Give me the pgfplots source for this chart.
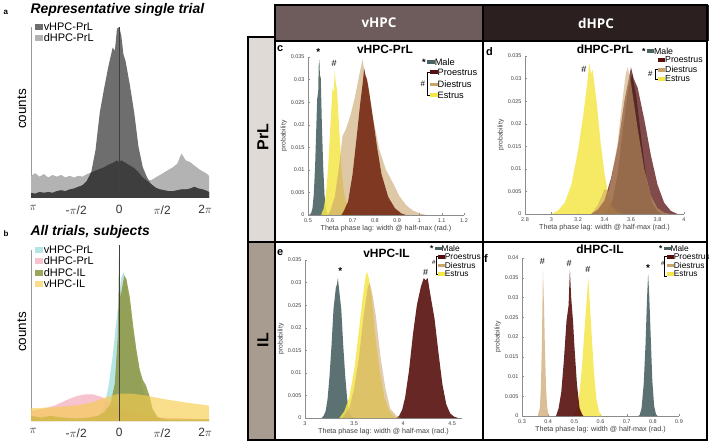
\documentclass[border=0pt]{standalone}
\usepackage{fontspec}
\setmainfont{Liberation Sans}
\newfontfamily\hdrfont{Open Sans}
\usepackage{pgfplots}
\pgfplotsset{compat=1.18}
\definecolor{male}{HTML}{4A6262}
\definecolor{proe}{HTML}{560F0D}
\definecolor{dies}{HTML}{C9A36B}
\definecolor{estr}{HTML}{F5E64A}
\definecolor{vgray}{HTML}{6E6E6E}
\definecolor{dgray}{HTML}{B3B3B3}
\definecolor{ovgray}{HTML}{3E3E3E}
\definecolor{bcyan}{HTML}{9EDCDD}
\definecolor{bpink}{HTML}{F2A9BA}
\definecolor{bolive}{HTML}{8C9440}
\definecolor{byell}{HTML}{F6CC4E}
\definecolor{hdrv}{HTML}{6E5B5B}
\definecolor{hdrd}{HTML}{2B1F1F}
\definecolor{cellprl}{HTML}{DFDAD5}
\definecolor{cellil}{HTML}{A89B8F}
\newcommand\fs[1]{\fontsize{#1}{#1}\selectfont}
\newcommand\sw[1]{\textcolor{#1}{\rule[0.12em]{0.8em}{0.42em}}}
\pgfplotsset{
  phase/.style={scale only axis, clip=false, width=178bp, height=171bp,
    xmin=-2.05, xmax=2.09, ymin=0, ymax=100,
    axis lines=left, x axis line style={draw=none},
    y axis line style={draw=black!40, -, line width=0.5bp},
    ytick=\empty, xtick={-2,-1,0,1,2},
    xticklabels={$\pi$, -$\pi$/2, 0, $\pi$/2, 2$\pi$},
    major tick length=0pt,
    xticklabel style={font=\fs{12}, text=black!80, yshift=-4bp},
    ylabel={counts},
    ylabel style={font=\fs{13.5}, at={(axis description cs:-0.052,0.52)}, anchor=center},
    legend style={draw=none, fill=none, font=\fs{11}, inner sep=0pt, row sep=1bp,
      nodes={inner xsep=0.5bp, inner ysep=0.5bp},
      legend cell align=left, at={(0.02,1.03)}, anchor=north west},
    legend image code/.code={\fill[##1] (0bp,-3bp) rectangle (8.5bp,3bp);},
  },
  hist/.style={scale only axis, clip=false, ymin=0,
    axis lines=left, axis line style={draw=black!45, -, line width=0.4bp},
    tick style={draw=black!45, line width=0.3bp}, tick align=inside, major tick length=1.5bp,
    tick label style={font=\fs{5.5}, text=black!75},
    /pgf/number format/assume math mode=true,
    scaled ticks=false,
    yticklabel style={/pgf/number format/fixed, /pgf/number format/precision=3},
    xticklabel style={/pgf/number format/fixed, /pgf/number format/precision=2},
    xlabel={Theta phase lag: width @ half-max (rad.)},
    ylabel={probability},
    xlabel style={font=\fs{7.2}, text=black!75, yshift=4bp},
    ylabel style={font=\fs{6.8}, text=black!75, yshift=-3bp},
  },
}
\begin{document}
\begin{tikzpicture}
\useasboundingbox (0,0) rectangle (709bp,442bp);
% ---------- table backgrounds ----------
\begin{scope}[x=1bp,y=1bp]
\fill[hdrv] (275,401) rectangle (483,437);
\fill[hdrd] (483,401) rectangle (709,437);
\fill[cellprl] (248,200) rectangle (275,405);
\fill[cellil] (248,2) rectangle (275,200);
\node[text=white, font=\hdrfont\bfseries\fs{13.5}] at (379,419) {vHPC};
\node[text=white, font=\hdrfont\bfseries\fs{13.5}] at (596,419) {dHPC};
\node[rotate=90, font=\bfseries\fs{16}] at (263,305) {PrL};
\node[rotate=90, font=\bfseries\fs{16}] at (263,102) {IL};
% panel a/b titles
\node[anchor=west, font=\bfseries\fs{8}] at (0,430) {a};
\node[anchor=west, font=\bfseries\itshape\fs{14}] at (27,432.5) {Representative single trial};
\node[anchor=west, font=\bfseries\fs{8}] at (0,208) {b};
\node[anchor=west, font=\bfseries\itshape\fs{14}] at (27,210) {All trials, subjects};
\end{scope}

% ---------- panel a ----------
\begin{axis}[phase, at={(31bp,244bp)}, anchor=south west, reverse legend]
\addplot[draw=none, fill=dgray] coordinates {(-2.05,13)(-1.95,14.5)(-1.85,12.5)(-1.75,14)(-1.65,12)(-1.55,13.5)(-1.45,12.5)(-1.35,13.5)(-1.25,12)(-1.15,13)(-1.05,12)(-0.95,13)(-0.85,12.5)(-0.75,14)(-0.65,15)(-0.55,16)(-0.45,17)(-0.35,18)(-0.25,19.5)(-0.15,20.5)(-0.05,22)(0,21)(0.05,22)(0.15,20.5)(0.25,19)(0.35,17.5)(0.45,15)(0.55,12)(0.65,10)(0.75,10.5)(0.85,12)(0.95,13.5)(1.05,15)(1.15,16.5)(1.25,18)(1.35,20)(1.45,26)(1.55,22)(1.65,21)(1.75,19)(1.85,17)(1.95,15.5)(2.05,14)(2.09,13)} \closedcycle;
\addlegendentry{dHPC-PrL}
\addplot[draw=none, fill=vgray] coordinates {(-2.05,3)(-1.95,2.5)(-1.85,3.5)(-1.75,3)(-1.65,3.5)(-1.55,3)(-1.45,4)(-1.35,4.5)(-1.25,4)(-1.15,5)(-1.05,5.5)(-0.95,6.5)(-0.85,7.5)(-0.75,10)(-0.65,15)(-0.55,28)(-0.45,50)(-0.35,64)(-0.25,77)(-0.15,88)(-0.1,86)(-0.05,99)(0,100)(0.05,95)(0.1,84)(0.15,80)(0.25,66)(0.35,50)(0.45,30)(0.55,18)(0.65,12)(0.75,8)(0.85,6)(0.95,5)(1.05,4.5)(1.15,4)(1.25,4)(1.35,4.5)(1.45,5)(1.55,5)(1.65,5.5)(1.75,6.5)(1.85,5.5)(1.95,5)(2.05,4)(2.09,3.5)} \closedcycle;
\addlegendentry{vHPC-PrL}
\addplot[draw=none, fill=ovgray, forget plot] coordinates {(-2.05,3)(-1.95,2.5)(-1.85,3.5)(-1.75,3)(-1.65,3.5)(-1.55,3)(-1.45,4)(-1.35,4.5)(-1.25,4)(-1.15,5)(-1.05,5.5)(-0.95,6.5)(-0.85,7.5)(-0.75,10)(-0.65,15)(-0.55,16)(-0.45,17)(-0.35,18)(-0.25,19.5)(-0.15,20.5)(-0.05,22)(0,21)(0.05,22)(0.15,20.5)(0.25,19)(0.35,17.5)(0.45,15)(0.55,12)(0.65,10)(0.75,8)(0.85,6)(0.95,5)(1.05,4.5)(1.15,4)(1.25,4)(1.35,4.5)(1.45,5)(1.55,5)(1.65,5.5)(1.75,6.5)(1.85,5.5)(1.95,5)(2.05,4)(2.09,3.5)} \closedcycle;
\draw[black!75, line width=0.6bp] (axis cs:0,0) -- (axis cs:0,100);
\end{axis}

% ---------- panel b ----------
\begin{axis}[phase, at={(31bp,21bp)}, anchor=south west]
\addplot[draw=none, fill=bcyan, fill opacity=0.75] coordinates {(-2.05,0)(-0.7,0)(-0.5,2)(-0.35,8)(-0.25,20)(-0.15,38)(-0.08,55)(0,72)(0.05,84)(0.1,87)(0.15,83)(0.22,72)(0.3,55)(0.4,38)(0.5,25)(0.6,14)(0.75,6)(0.9,2)(1.1,0.5)(2.09,0)} \closedcycle;
\addlegendentry{vHPC-PrL}
\addplot[draw=none, fill=bpink, fill opacity=0.7] coordinates {(-2.05,6)(-1.8,7)(-1.5,9)(-1.2,12.5)(-1.0,14.5)(-0.8,15.5)(-0.6,15.5)(-0.4,14)(-0.2,11)(0,8)(0.3,5)(0.6,3)(1,2)(2.09,1)} \closedcycle;
\addlegendentry{dHPC-PrL}
\addplot[draw=none, fill=bolive, fill opacity=0.85] coordinates {(-2.05,3)(-1.8,2)(-1.6,3)(-1.3,2)(-1.0,1.5)(-0.7,2)(-0.5,3)(-0.35,5)(-0.2,10)(-0.1,22)(-0.03,50)(0,100)(0.03,72)(0.07,78)(0.12,85)(0.17,83)(0.25,72)(0.33,55)(0.4,42)(0.48,30)(0.55,24)(0.62,21)(0.7,15)(0.78,7)(0.9,2)(1.1,1)(1.5,1)(2.09,1)} \closedcycle;
\addlegendentry{dHPC-IL}
\addplot[draw=none, fill=byell, fill opacity=0.65] coordinates {(-2.05,7.5)(-1.5,8)(-1.0,9)(-0.6,11)(-0.3,14)(0,16)(0.3,16)(0.6,15)(1.0,13)(1.5,11)(2.09,9)} \closedcycle;
\addlegendentry{vHPC-IL}
\draw[black!75, line width=0.6bp] (axis cs:0,0) -- (axis cs:0,103);
\end{axis}

% ---------- panel c ----------
\begin{axis}[hist, at={(308bp,227bp)}, anchor=south west, width=156bp, height=158bp,
  xmin=0.5, xmax=1.2, ymax=0.035, xtick={0.5,0.6,0.7,0.8,0.9,1,1.1,1.2},
  ytick={0,0.005,0.01,0.015,0.02,0.025,0.03,0.035}]
\addplot[draw=none, fill=male, fill opacity=0.9] coordinates {(0.505,0)(0.514,0.0004)(0.52,0.0015)(0.526,0.0046)(0.532,0.011)(0.538,0.0206)(0.542,0.027)(0.545,0.025)(0.548,0.033)(0.551,0.0345)(0.554,0.030)(0.557,0.031)(0.562,0.0206)(0.568,0.011)(0.574,0.0046)(0.58,0.0015)(0.586,0.0004)(0.595,0)} \closedcycle;
\addplot[draw=none, fill=estr, fill opacity=0.85] coordinates {(0.56,0.0002)(0.57,0.0014)(0.58,0.0043)(0.59,0.0104)(0.60,0.0194)(0.61,0.0282)(0.615,0.027)(0.62,0.032)(0.625,0.029)(0.63,0.028)(0.64,0.019)(0.65,0.011)(0.66,0.0055)(0.67,0.003)(0.68,0.0016)(0.69,0.0008)(0.70,0.0003)(0.71,0)} \closedcycle;
\addplot[draw=none, fill=dies, fill opacity=0.6] coordinates {(0.59,0)(0.60,0.001)(0.62,0.004)(0.64,0.011)(0.655,0.0175)(0.67,0.019)(0.69,0.022)(0.71,0.026)(0.73,0.031)(0.745,0.0345)(0.755,0.031)(0.77,0.029)(0.79,0.022)(0.82,0.0145)(0.85,0.010)(0.88,0.0072)(0.91,0.0042)(0.94,0.0022)(0.97,0.001)(1.0,0.0004)(1.03,0)} \closedcycle;
\addplot[draw=none, fill=proe!85!orange, fill opacity=0.85] coordinates {(0.65,0)(0.66,0.0008)(0.68,0.003)(0.70,0.009)(0.72,0.018)(0.735,0.025)(0.745,0.029)(0.752,0.0325)(0.758,0.031)(0.765,0.030)(0.775,0.027)(0.79,0.022)(0.81,0.015)(0.83,0.009)(0.86,0.004)(0.89,0.0015)(0.92,0.0003)(0.94,0)} \closedcycle;
\node[font=\bfseries\fs{10}] at (axis cs:0.546,0.0362) {*};
\node[font=\fs{9}] at (axis cs:0.617,0.0335) {\#};
\end{axis}

% ---------- panel d ----------
\begin{axis}[hist, at={(525bp,228bp)}, anchor=south west, width=159bp, height=158bp,
  xmin=2.8, xmax=4, ymax=0.035, xtick={2.8,3,3.2,3.4,3.6,3.8,4},
  ytick={0,0.005,0.01,0.015,0.02,0.025,0.03,0.035}]
\addplot[draw=none, fill=male, fill opacity=0.9] coordinates {(3.38,0)(3.42,0.0008)(3.46,0.003)(3.5,0.009)(3.54,0.019)(3.58,0.028)(3.61,0.031)(3.64,0.026)(3.68,0.016)(3.72,0.007)(3.76,0.0025)(3.8,0.0006)(3.84,0)} \closedcycle;
\addplot[draw=none, fill=estr, fill opacity=0.85] coordinates {(3.0,0)(3.05,0.0008)(3.1,0.0025)(3.15,0.0065)(3.2,0.014)(3.24,0.022)(3.27,0.029)(3.285,0.0335)(3.3,0.031)(3.31,0.032)(3.34,0.025)(3.37,0.016)(3.40,0.009)(3.43,0.004)(3.46,0.0015)(3.5,0.0004)(3.55,0)} \closedcycle;
\addplot[draw=none, fill=proe, fill opacity=0.75] coordinates {(3.3,0)(3.35,0.001)(3.4,0.003)(3.45,0.008)(3.5,0.015)(3.55,0.025)(3.59,0.031)(3.6,0.0325)(3.62,0.030)(3.65,0.028)(3.7,0.021)(3.75,0.013)(3.8,0.0065)(3.85,0.0025)(3.9,0.0007)(3.95,0)} \closedcycle;
\addplot[draw=none, fill=dies, fill opacity=0.55] coordinates {(3.3,0)(3.35,0.002)(3.4,0.0055)(3.43,0.005)(3.46,0.009)(3.5,0.016)(3.53,0.024)(3.56,0.031)(3.575,0.0325)(3.6,0.029)(3.65,0.019)(3.7,0.01)(3.75,0.004)(3.8,0.0013)(3.85,0.0003)(3.9,0)} \closedcycle;
\node[font=\fs{9}] at (axis cs:3.245,0.032) {\#};
\end{axis}

% ---------- panel e ----------
\begin{axis}[hist, at={(305bp,24bp)}, anchor=south west, width=157bp, height=158bp,
  xmin=3, xmax=4.6, ymax=0.035, xtick={3,3.5,4,4.5},
  ytick={0,0.005,0.01,0.015,0.02,0.025,0.03,0.035}]
\addplot[draw=none, fill=male, fill opacity=0.9] coordinates {(3.17,0)(3.19,0.0005)(3.21,0.0015)(3.23,0.0042)(3.25,0.0093)(3.27,0.016)(3.29,0.024)(3.305,0.027)(3.315,0.029)(3.325,0.0295)(3.335,0.031)(3.35,0.028)(3.37,0.024)(3.39,0.016)(3.41,0.0093)(3.43,0.0042)(3.45,0.0015)(3.47,0.0004)(3.5,0)} \closedcycle;
\addplot[draw=none, fill=estr, fill opacity=0.85] coordinates {(3.35,0)(3.4,0.0015)(3.45,0.0045)(3.5,0.0105)(3.55,0.0195)(3.59,0.027)(3.615,0.031)(3.63,0.0325)(3.65,0.031)(3.68,0.027)(3.71,0.0195)(3.76,0.0105)(3.81,0.0045)(3.86,0.0015)(3.91,0.0003)(3.95,0)} \closedcycle;
\addplot[draw=none, fill=proe, fill opacity=0.9] coordinates {(3.93,0)(3.96,0.0005)(3.99,0.0018)(4.02,0.0045)(4.06,0.0105)(4.10,0.0185)(4.14,0.025)(4.18,0.029)(4.21,0.031)(4.23,0.0305)(4.25,0.031)(4.28,0.027)(4.32,0.022)(4.36,0.0145)(4.40,0.0075)(4.44,0.003)(4.48,0.001)(4.52,0.0003)(4.56,0)} \closedcycle;
\addplot[draw=none, fill=dies, fill opacity=0.55] coordinates {(3.38,0)(3.45,0.002)(3.5,0.0065)(3.55,0.0135)(3.6,0.023)(3.64,0.029)(3.66,0.030)(3.69,0.027)(3.72,0.023)(3.77,0.0135)(3.82,0.0065)(3.87,0.002)(3.94,0.0003)(3.98,0)} \closedcycle;
\node[font=\bfseries\fs{10}] at (axis cs:3.36,0.0325) {*};
\node[font=\fs{9}] at (axis cs:4.23,0.0322) {\#};
\end{axis}

% ---------- panel f ----------
\begin{axis}[hist, at={(522bp,26bp)}, anchor=south west, width=157bp, height=158bp,
  xmin=0.3, xmax=0.9, ymax=0.04, xtick={0.3,0.4,0.5,0.6,0.7,0.8,0.9},
  ytick={0,0.005,0.01,0.015,0.02,0.025,0.03,0.035,0.04}]
\addplot[draw=none, fill=male, fill opacity=0.9] coordinates {(0.745,0)(0.75,0.0003)(0.757,0.002)(0.765,0.008)(0.772,0.018)(0.778,0.030)(0.782,0.036)(0.786,0.031)(0.792,0.02)(0.798,0.009)(0.805,0.0025)(0.812,0.0005)(0.818,0)} \closedcycle;
\addplot[draw=none, fill=estr, fill opacity=0.85] coordinates {(0.50,0)(0.51,0.002)(0.52,0.006)(0.53,0.013)(0.54,0.023)(0.548,0.030)(0.553,0.035)(0.558,0.030)(0.565,0.022)(0.575,0.011)(0.585,0.004)(0.595,0.001)(0.605,0)} \closedcycle;
\addplot[draw=none, fill=proe, fill opacity=0.9] coordinates {(0.43,0)(0.44,0.002)(0.45,0.006)(0.46,0.014)(0.47,0.024)(0.478,0.028)(0.483,0.037)(0.488,0.030)(0.495,0.024)(0.5,0.018)(0.51,0.008)(0.52,0.002)(0.53,0.0004)(0.535,0)} \closedcycle;
\addplot[draw=none, fill=dies, fill opacity=0.7] coordinates {(0.36,0)(0.368,0.002)(0.372,0.007)(0.376,0.018)(0.38,0.037)(0.384,0.028)(0.388,0.016)(0.392,0.007)(0.396,0.0025)(0.40,0.0006)(0.405,0)} \closedcycle;
\node[font=\fs{9}] at (axis cs:0.378,0.0392) {\#};
\node[font=\fs{9}] at (axis cs:0.48,0.0385) {\#};
\node[font=\fs{9}] at (axis cs:0.552,0.037) {\#};
\node[font=\bfseries\fs{10}] at (axis cs:0.782,0.0375) {*};
\end{axis}

% ---------- overlays: titles, legends, borders ----------
\begin{scope}[x=1bp,y=1bp]
\node[font=\bfseries\fs{12}] at (385,393) {vHPC-PrL};
\node[font=\bfseries\fs{12}] at (605,393) {dHPC-PrL};
\node[font=\bfseries\fs{12}] at (386.5,189) {vHPC-IL};
\node[font=\bfseries\fs{12}] at (600,193) {dHPC-IL};
\node[anchor=west, font=\bfseries\fs{11}, inner sep=0] at (277,393) {c};
\node[anchor=west, font=\bfseries\fs{11}, inner sep=0] at (486,390) {d};
\node[anchor=west, font=\bfseries\fs{11}, inner sep=0] at (277,189) {e};
\node[anchor=west, font=\bfseries\fs{11}, inner sep=0] at (484,183) {f};
% legend c
\begin{scope}[every node/.style={anchor=west, inner sep=0, font=\fs{9.3}}]
\node at (422,380) {\textbf{*}\,\sw{male}Male};
\node at (430,369.7) {\sw{proe}Proestrus};
\node at (430,357.7) {\sw{dies}Diestrus};
\node at (430,347) {\sw{estr}Estrus};
\node[font=\fs{8}] at (420.5,358) {\#};
\end{scope}
\draw[line width=0.5bp] (429.5,369.7) -- (427,369.7) -- (427,347) -- (429.5,347);
% legend d
\begin{scope}[every node/.style={anchor=west, inner sep=0, font=\fs{8.8}}]
\node at (642,391) {\textbf{*}\,\sw{male}Male};
\node at (658,382) {\sw{proe}Proestrus};
\node at (658,372.5) {\sw{dies}Diestrus};
\node at (658,363) {\sw{estr}Estrus};
\node[font=\fs{8}] at (648,368) {\#};
\end{scope}
\draw[line width=0.5bp] (657.5,372.5) -- (655,372.5) -- (655,363) -- (657.5,363);
% legend e
\begin{scope}[every node/.style={anchor=west, inner sep=0, font=\fs{8.4}}]
\node at (430,193.5) {\textbf{*}\,\sw{male}Male};
\node at (438,185.3) {\sw{proe}Proestrus};
\node at (438,176.5) {\sw{dies}Diestrus};
\node at (438,168) {\sw{estr}Estrus};
\node[font=\fs{6}] at (432,180) {\#};
\end{scope}
\draw[line width=0.5bp] (437.5,185.3) -- (436,185.3) -- (436,168) -- (437.5,168);
% legend f
\begin{scope}[every node/.style={anchor=west, inner sep=0, font=\fs{8.4}}]
\node at (659,193.5) {\textbf{*}\,\sw{male}Male};
\node at (667,185.3) {\sw{proe}Proestrus};
\node at (667,176.5) {\sw{dies}Diestrus};
\node at (667,168) {\sw{estr}Estrus};
\node[font=\fs{6}] at (661,179) {\#};
\end{scope}
\draw[line width=0.5bp] (666.5,186) -- (664.5,186) -- (664.5,166) -- (666.5,166);
% borders
\draw[line width=2bp] (275,437) rectangle (707,2);
\draw[line width=2bp] (275,401) -- (707,401);
\draw[line width=2bp] (483,437) -- (483,2);
\draw[line width=2bp] (248,200) -- (707,200);
\draw[line width=1.2bp] (248,405) rectangle (275,2);
\end{scope}
\end{tikzpicture}
\end{document}
